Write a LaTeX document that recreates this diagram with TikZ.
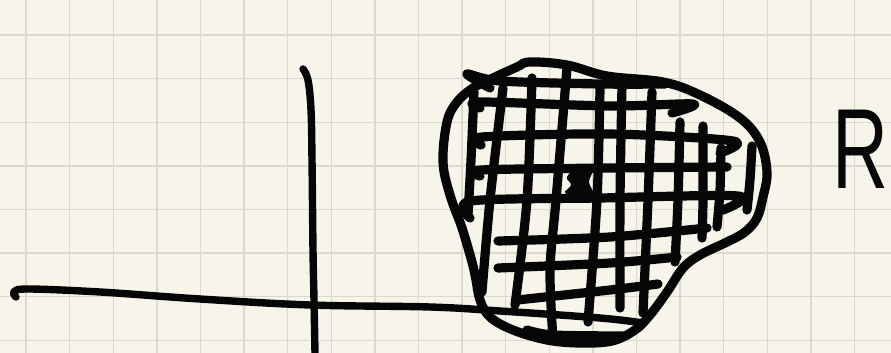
\documentclass[tikz,border=0pt]{standalone}
\usepackage{fontspec}
\setmainfont{Liberation Sans}
\definecolor{paper}{RGB}{247,245,233}
\definecolor{gridc}{RGB}{218,218,204}
\definecolor{ink}{RGB}{6,6,6}
\begin{document}
\begin{tikzpicture}[x=1pt,y=-1pt,
  pen/.style={draw=ink,line width=9.2pt,line cap=round,line join=round},
  axispen/.style={draw=ink,line width=7.4pt,line cap=round,line join=round},
  paperlines/.style={draw=gridc,line width=1.4pt}]
\fill[paper] (0,0) rectangle (891,353);
\useasboundingbox (0,0) rectangle (891,353);
% paper grid
\foreach \k in {0,...,19} \draw[paperlines] ({26+43.6*\k},0) -- ({26+43.6*\k},353);
\foreach \k in {0,...,7} \draw[paperlines] (0,{35+43.6*\k}) -- (891,{35+43.6*\k});
% axes
\draw[axispen] plot[smooth,tension=0.6] coordinates {(16,297)(14,292)(28,289)(100,292)(200,299)(310,305)(430,307)(500,311)(600,318)(643,323)};
\draw[axispen] plot[smooth,tension=0.6] coordinates {(303,69)(308,80)(311,110)(312,160)(313,250)(314,300)(315,353)};
% horizontal hatching
\draw[pen] plot[smooth,tension=0.5] coordinates {(490,88)(467,74)(500,81)(600,84)(665,84)};
\draw[pen] plot[smooth,tension=0.5] coordinates {(480,108)(480,102)(610,106)(693,104)(672,113)};
\draw[pen] plot[smooth,tension=0.5] coordinates {(481,145)(482,137)(610,134)(733,141)(720,153)};
\draw[pen] plot[smooth,tension=0.5] coordinates {(480,176)(481,170)(610,168)(727,167)};
\draw[pen] plot[smooth,tension=0.5] coordinates {(470,218)(471,201)(600,198)(738,196)(723,210)};
\draw[pen] plot[smooth,tension=0.5] coordinates {(498,241)(610,237)(707,228)};
\draw[pen] plot[smooth,tension=0.5] coordinates {(498,268)(610,263)(677,257)};
\draw[pen] plot[smooth,tension=0.5] coordinates {(517,300)(610,290)(658,284)};
\draw[pen] plot[smooth,tension=0.5] coordinates {(527,330)(553,335)(625,336)};
% vertical hatching
\draw[pen] plot[smooth,tension=0.5] coordinates {(474,92)(471,160)(468,215)};
\draw[pen] plot[smooth,tension=0.5] coordinates {(503,88)(490,200)(482,292)};
\draw[pen] plot[smooth,tension=0.5] coordinates {(532,78)(527,200)(515,305)};
\draw[pen] plot[smooth,tension=0.5] coordinates {(567,68)(556,200)(550,270)(553,340)};
\draw[pen] plot[smooth,tension=0.5] coordinates {(600,88)(597,200)(588,322)};
\draw[pen] plot[smooth,tension=0.5] coordinates {(622,85)(620,200)(620,308)};
\draw[pen] plot[smooth,tension=0.5] coordinates {(652,92)(648,200)(643,313)};
\draw[pen] plot[smooth,tension=0.5] coordinates {(680,122)(678,200)(675,262)};
\draw[pen] plot[smooth,tension=0.5] coordinates {(703,126)(703,200)(702,238)};
\draw[pen] plot[smooth,tension=0.5] coordinates {(721,148)(720,190)(717,227)};
\draw[pen] plot[smooth,tension=0.5] coordinates {(752,146)(750,180)(747,210)};
% dot
\fill[ink] plot[smooth cycle,tension=0.7] coordinates {(567,177)(578,168)(592,170)(589,182)(593,194)(580,196)(565,193)(571,185)};
% outline
\draw[pen] plot[smooth cycle,tension=0.6] coordinates {(530,62)(567,65)(607,76)(663,82)(700,95)(740,118)(760,142)(767,172)(763,197)(757,218)(745,232)(727,242)(700,255)(683,268)(667,292)(650,315)(635,330)(612,341)(580,343)(547,340)(513,330)(490,317)(480,300)(476,280)(472,262)(462,228)(450,195)(443,162)(447,122)(457,102)(473,88)(493,78)(517,67)};
% label
\node[anchor=base west,inner sep=0pt,xscale=0.68,font=\fontsize{114}{114}\selectfont,text=ink] (R) at (832,188) {R};
\end{tikzpicture}
\end{document}
